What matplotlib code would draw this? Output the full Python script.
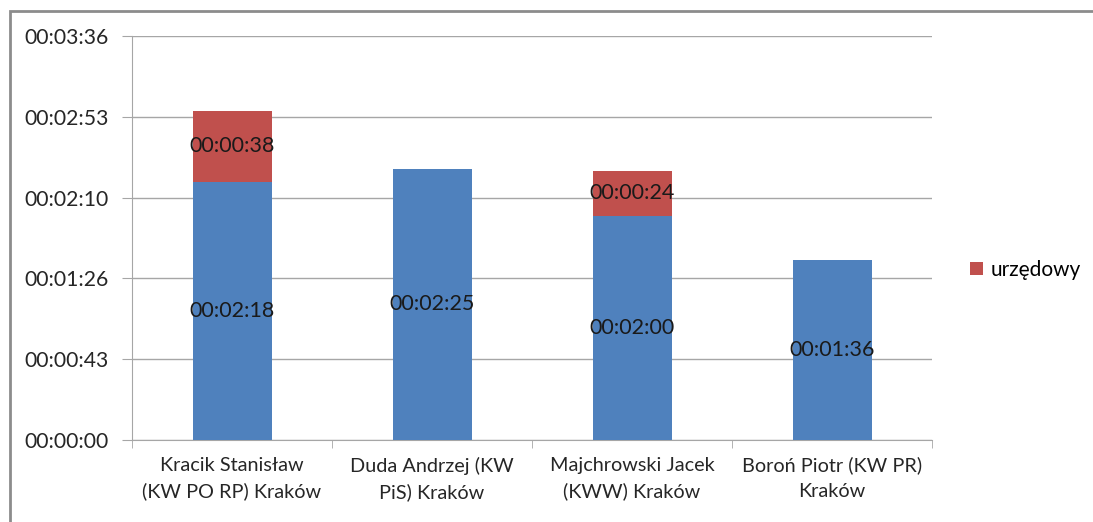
import matplotlib.pyplot as plt
from matplotlib.patches import Rectangle
from matplotlib.ticker import FuncFormatter

plt.rcParams['font.family'] = ['Lato', 'DejaVu Sans']

candidates = ['Kracik Stanisław\n(KW PO RP) Kraków', 'Duda Andrzej (KW\nPiS) Kraków',
              'Majchrowski Jacek\n(KWW) Kraków', 'Boroń Piotr (KW PR)\nKraków']
# times in seconds
base_sec = [138, 145, 120, 96]
official_sec = [38, 0, 24, 0]
yticks_sec = [0, 43.2, 86.4, 129.6, 172.8, 216]

blue = '#4F81BD'
red = '#C0504D'
grid = '#A6A6A6'


def hms(s):
    s = int(round(s))
    return '%02d:%02d:%02d' % (s // 3600, (s % 3600) // 60, s % 60)


fig = plt.figure(figsize=(10.93, 5.22), dpi=100)
ax = fig.add_axes([132 / 1093, 1 - 440 / 522, 800 / 1093, 404 / 522])

x = list(range(len(candidates)))
ax.bar(x, base_sec, width=0.395, color=blue, zorder=3)
ax.bar(x, official_sec, width=0.395, bottom=base_sec, color=red, zorder=3, label='urzędowy')

for i in x:
    ax.text(i, base_sec[i] / 2, hms(base_sec[i]), ha='center', va='center', fontsize=15.5, color='#1a1a1a', zorder=4)
    if official_sec[i] > 0:
        ax.text(i, base_sec[i] + official_sec[i] / 2, hms(official_sec[i]), ha='center', va='center',
                fontsize=15.5, color='#1a1a1a', zorder=4)

ax.set_xlim(-0.5, len(candidates) - 0.5)
ax.set_ylim(0, 216)
ax.set_yticks(yticks_sec)
ax.yaxis.set_major_formatter(FuncFormatter(lambda v, p: hms(v)))
ax.yaxis.grid(True, color=grid, linewidth=1, zorder=0)

ax.set_xticks(x)
ax.set_xticklabels(candidates, fontsize=14.3, color='#262626', linespacing=1.6)
ax.set_xticks([i - 0.5 for i in range(len(candidates) + 1)], minor=True)
ax.tick_params(axis='x', which='major', length=0, pad=12)
ax.tick_params(axis='x', which='minor', length=6, color=grid, direction='out')
ax.tick_params(axis='y', length=7, color=grid, labelsize=15.2, labelcolor='#262626', pad=10)

for side in ['top', 'right']:
    ax.spines[side].set_visible(False)
for side in ['left', 'bottom']:
    ax.spines[side].set_color(grid)

ax.legend(loc='center left', bbox_to_anchor=(960 / 1093, 1 - 270 / 522), bbox_transform=fig.transFigure,
          frameon=False, fontsize=15, handlelength=0.6, handleheight=0.6, handletextpad=0.35, borderpad=0)

fig.patches.append(Rectangle((10 / 1093, -0.1), 1.2, 1 - 11 / 522 + 0.1, transform=fig.transFigure,
                             fill=False, edgecolor='#8C8C8C', linewidth=2))

fig.savefig('out.png', dpi=100)
